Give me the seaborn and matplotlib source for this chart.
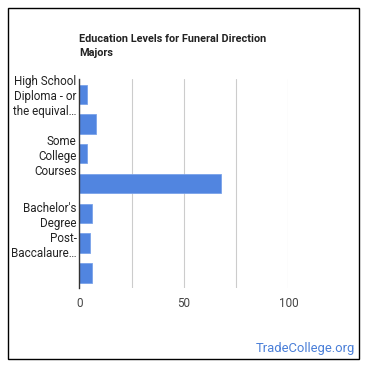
import matplotlib
matplotlib.use("Agg")

import matplotlib.pyplot as plt
import pandas as pd
import seaborn as sns
from matplotlib.patches import Rectangle

levels = [
    "High School Diploma - or the equivalent",
    "Post-Secondary Certificate",
    "Some College Courses",
    "Associate's Degree",
    "Bachelor's Degree",
    "Post-Baccalaureate Certificate",
    "Master's Degree",
]
tick_labels = [
    "High School\nDiploma - or\nthe equival\u2026",
    "",
    "Some\nCollege\nCourses",
    "",
    "Bachelor's\nDegree",
    "Post-\nBaccalaure\u2026",
    "",
]
percent = [3.8, 8.1, 3.8, 67.6, 6.2, 5.2, 6.2]
x_ticks = [0, 50, 100]

df = pd.DataFrame({"level": levels, "percent": percent})

sns.set_style("white")
plt.rcParams["font.family"] = ["Roboto", "DejaVu Sans"]

fig = plt.figure(figsize=(3.7, 3.7), dpi=100)
ax = fig.add_axes([0.2143, 0.2224, 0.5654, 0.5632])

sns.barplot(
    data=df,
    x="percent",
    y="level",
    orient="h",
    color="#5185e0",
    width=0.65,
    saturation=1,
    edgecolor="#7aa3ea",
    linewidth=0.6,
    ax=ax,
)

ax.set_xlim(0, 100)
ax.set_xticks(x_ticks)
ax.set_xticks([25, 75], minor=True)
ax.grid(axis="x", which="both", color="#cccccc", linewidth=0.8)
ax.set_axisbelow(True)
ax.set_yticks(range(len(levels)))
ax.set_yticklabels(tick_labels, fontsize=8.4, color="#222222")
ax.tick_params(axis="y", length=0, pad=2)
ax.tick_params(axis="x", which="both", length=0, pad=7, labelsize=8.4, labelcolor="#444444")
ax.set_xlabel("")
ax.set_ylabel("")
for side in ["top", "right", "bottom"]:
    ax.spines[side].set_visible(False)
ax.spines["left"].set_color("#333333")
ax.spines["left"].set_linewidth(1.0)

fig.text(79 / 370, 1 - 34 / 370,
         "Education Levels for Funeral Direction\nMajors",
         fontsize=7.8, fontweight="bold", color="#222222",
         va="top", ha="left", linespacing=1.5)

fig.text(355 / 370, 1 - 352 / 370, "TradeCollege.org",
         fontsize=9.4, color="#4a7fd8", ha="right", va="baseline")

fig.patches.append(Rectangle((8 / 370, 1 - 359 / 370), 351 / 370, 351 / 370,
                             transform=fig.transFigure, fill=False,
                             edgecolor="black", linewidth=1.0))

fig.savefig("out.png", dpi=100)
